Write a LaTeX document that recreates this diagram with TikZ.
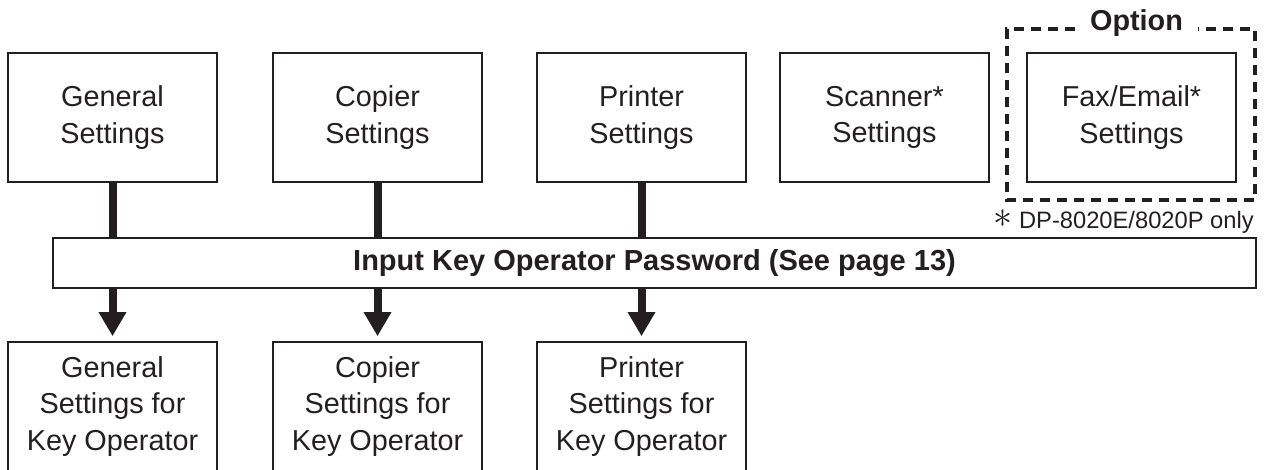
\documentclass[tikz,border=0pt]{standalone}
\usepackage{fontspec}
\setmainfont{Liberation Sans}
\usetikzlibrary{arrows.meta}
\definecolor{ink}{HTML}{231F20}
\tikzset{
	setbox/.style={draw=ink, line width=0.9pt, minimum width=4.18cm, minimum height=2.58cm, align=center, text=ink, font=\fontsize{16.4}{20.6}\selectfont},
	flow/.style={draw=ink, line width=0.16cm},
}
\begin{document}
\begin{tikzpicture}[>={Triangle[width=0.52cm,length=0.48cm]}, scale=1]
			\useasboundingbox (0,0) rectangle (25.44,9.38);
			% top row
			\node[setbox] (general) at (2.25,7.03) {General\\Settings};
			\node[setbox] (copier) at (7.55,7.03) {Copier\\Settings};
			\node[setbox] (printer) at (12.83,7.03) {Printer\\Settings};
			\node[setbox] (scanner) at (17.69,7.03) {Scanner*\\Settings};
			\node[setbox] (fax) at (22.63,7.03) {Fax/Email*\\Settings};
			% option frame
			\node[text=ink, font=\bfseries\fontsize{16.4}{19}\selectfont] (option) at (22.73,8.92) {Option};
			\draw[ink, line width=0.08cm, dash pattern=on 0.2cm off 0.14cm] (21.5,8.8) -- (20.14,8.8) -- (20.14,5.38) -- (25.1,5.38) -- (25.1,8.8) -- (23.96,8.8);
			\node[anchor=east, text=ink, font=\fontsize{13.5}{16}\selectfont] (note) at (25.2,4.94) {\raisebox{0.1ex}{\scalebox{1.5}{$\ast$}} DP-8020E/8020P only};
			% password bar
			\node[draw=ink, line width=0.9pt, minimum width=24.06cm, minimum height=1cm, text=ink, font=\bfseries\fontsize{16.5}{19}\selectfont] (pw) at (13.09,4.12) {Input Key Operator Password (See page 13)};
			% bottom row
			\node[setbox] (generalko) at (2.25,1.25) {General\\Settings for\\Key Operator};
			\node[setbox] (copierko) at (7.55,1.25) {Copier\\Settings for\\Key Operator};
			\node[setbox] (printerko) at (12.83,1.25) {Printer\\Settings for\\Key Operator};
			% arrows
			\draw[flow] (general.south) -- (general.south |- pw.north);
			\draw[flow] (copier.south) -- (copier.south |- pw.north);
			\draw[flow] (printer.south) -- (printer.south |- pw.north);
			\draw[flow, ->, shorten >=0.1cm] (generalko.north |- pw.south) -- (generalko.north);
			\draw[flow, ->, shorten >=0.1cm] (copierko.north |- pw.south) -- (copierko.north);
			\draw[flow, ->, shorten >=0.1cm] (printerko.north |- pw.south) -- (printerko.north);
		\end{tikzpicture}
\end{document}
